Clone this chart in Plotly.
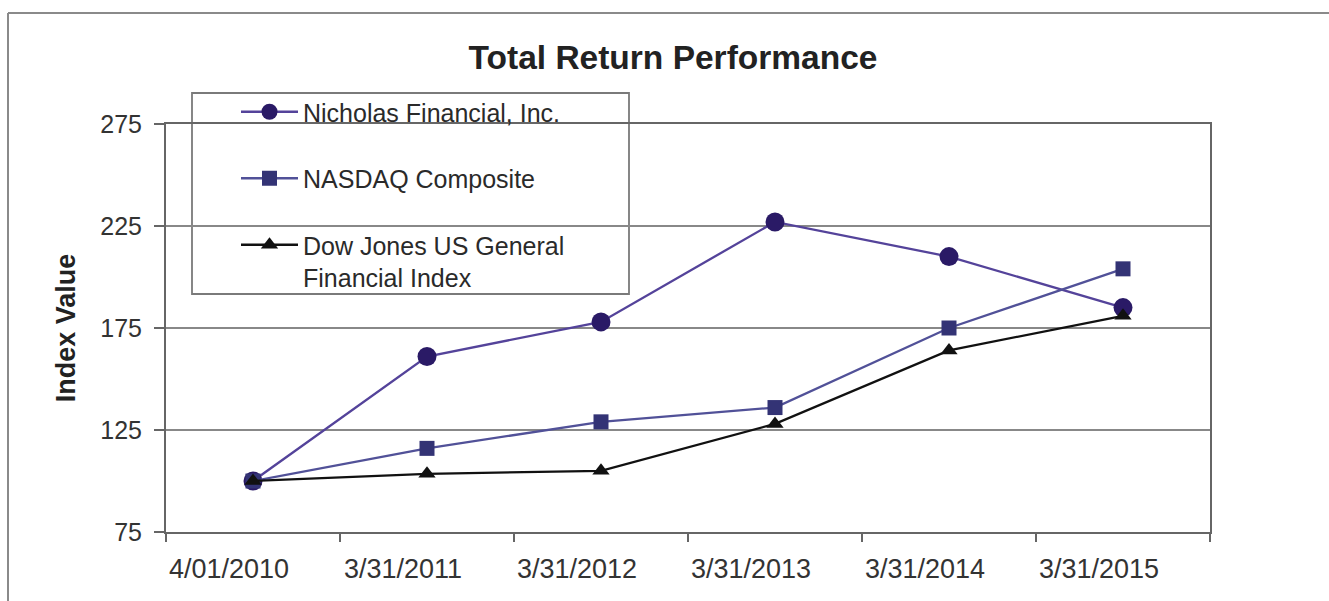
import plotly.graph_objects as go

categories = ["4/01/2010", "3/31/2011", "3/31/2012", "3/31/2013", "3/31/2014", "3/31/2015"]
nicholas = [100, 161, 178, 227, 210, 185]
nasdaq = [100, 116, 129, 136, 175, 204]
dow = [100, 103.5, 105, 128, 164, 181]
y_ticks = [75, 125, 175, 225, 275]

W, H = 1329, 601
L, R, T, B = 166, 119, 124, 69
PW, PH = W - L - R, H - T - B

def px_x(p):
    return (p - L) / PW

def px_y(p):
    return (H - B - p) / PH

FONT = "Liberation Sans, Arial, sans-serif"

fig = go.Figure()
fig.add_trace(go.Scatter(
    x=categories, y=nicholas, name="Nicholas Financial, Inc.", mode="lines+markers",
    line=dict(color="#54439a", width=2.3),
    marker=dict(symbol="circle", size=19, color="#2a1a66"),
    legendgroup="a"))
fig.add_trace(go.Scatter(
    x=categories, y=nasdaq, name="NASDAQ Composite", mode="lines+markers",
    line=dict(color="#515198", width=2.3),
    marker=dict(symbol="square", size=15, color="#333375"),
    legendgroup="b"))
fig.add_trace(go.Scatter(
    x=categories, y=dow, name="Dow Jones US General<br>Financial Index", mode="lines+markers",
    line=dict(color="#111111", width=2.3),
    marker=dict(symbol="triangle-up", size=15, color="#111111"),
    legendgroup="c"))

fig.update_layout(
    width=W, height=H,
    margin=dict(l=L, r=R, t=T, b=B),
    paper_bgcolor="white", plot_bgcolor="white",
    font=dict(family=FONT, color="#333333"),
    title=dict(text="<b>Total Return Performance</b>", x=673 / W, xanchor="center",
               y=1 - 57 / H, yanchor="middle",
               font=dict(size=33.5, color="#222222", family=FONT)),
    showlegend=True,
    legend=dict(x=px_x(236), y=px_y(89), xanchor="left", yanchor="top",
                bgcolor="rgba(0,0,0,0)", borderwidth=0,
                font=dict(size=25, color="#2a2a2a", family=FONT),
                traceorder="grouped", tracegroupgap=31, itemwidth=57,
                valign="top"),
    xaxis=dict(type="category", tickson="boundaries", ticks="outside", ticklen=8,
               tickcolor="#666666", tickwidth=1.5,
               showline=True, linecolor="#666666", linewidth=2, mirror=True,
               showgrid=False, tickfont=dict(size=27, color="#333333"),
               ticklabelshift=-24, ticklabelstandoff=12,
               range=[-0.5, 5.5]),
    yaxis=dict(range=[75, 275], tickvals=y_ticks, ticks="outside", ticklen=10,
               tickcolor="#666666", tickwidth=1.5,
               showline=True, linecolor="#666666", linewidth=2, mirror=True,
               showgrid=True, gridcolor="#888888", gridwidth=1.8, zeroline=False,
               tickfont=dict(size=25, color="#333333"), ticklabelstandoff=7,
               title=dict(text="<b>Index Value</b>", standoff=17,
                          font=dict(size=27, color="#222222", family=FONT))),
    shapes=[
        dict(type="rect", xref="paper", yref="paper", layer="between",
             x0=px_x(192), x1=px_x(629), y0=px_y(294), y1=px_y(93),
             line=dict(color="#7a7a7a", width=1.8), fillcolor="white"),
        dict(type="line", xref="paper", yref="paper",
             x0=px_x(8), x1=px_x(1340), y0=px_y(13), y1=px_y(13),
             line=dict(color="#8a8a8a", width=2)),
        dict(type="line", xref="paper", yref="paper",
             x0=px_x(8), x1=px_x(8), y0=px_y(13), y1=px_y(610),
             line=dict(color="#8a8a8a", width=2)),
    ],
)

fig.write_html("out.html", config={"displayModeBar": False},
               post_script="document.body.style.margin='0';document.body.style.overflow='hidden';")
